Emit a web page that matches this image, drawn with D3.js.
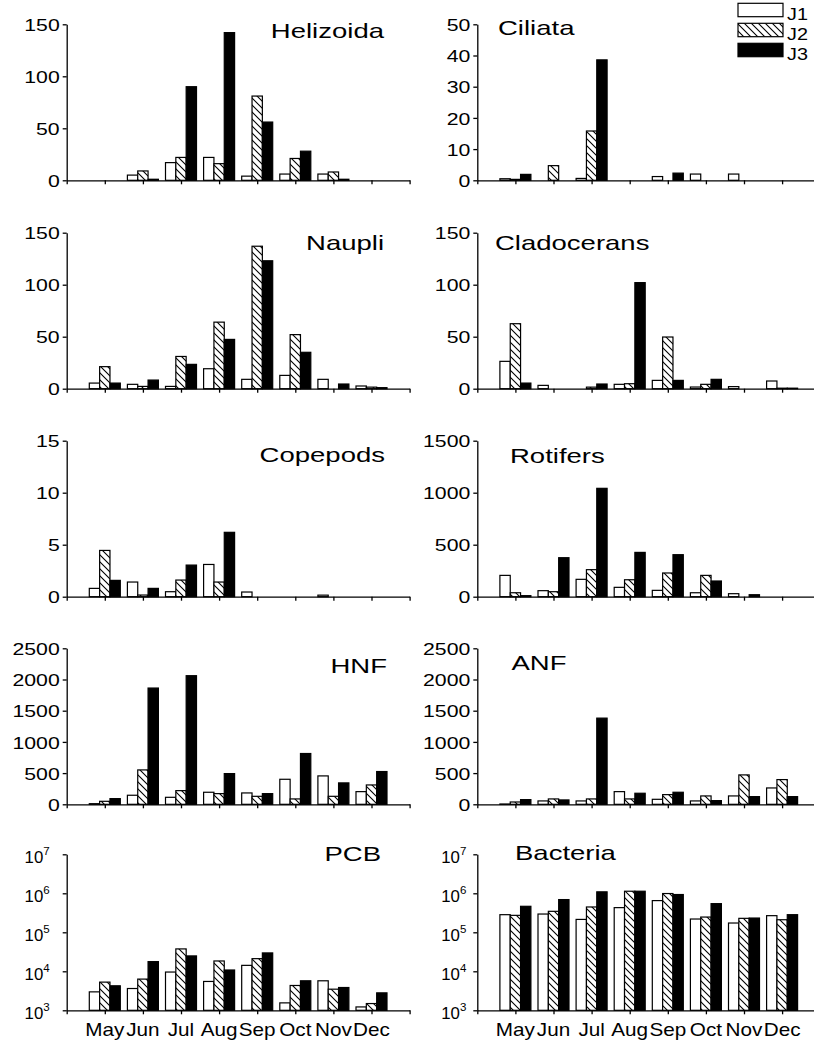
<!DOCTYPE html>
<html><head><meta charset="utf-8">
<script src="https://cdn.jsdelivr.net/npm/d3@7"></script>
<style>
body{margin:0;background:#fff}
svg{display:block}
text{font-family:"Liberation Sans",Arial,sans-serif;fill:#000}
</style>
</head><body>
<svg id="chart" width="814" height="1042"></svg>
<script>
// ---------- data ----------
const months = ["May","Jun","Jul","Aug","Sep","Oct","Nov","Dec"];
const seriesNames = ["J1","J2","J3"];

const helizoidaJ1 = [0, 5, 17, 22, 4, 6, 6, 0];
const helizoidaJ2 = [0, 9, 22, 16, 81, 21, 8, 0];
const helizoidaJ3 = [0, 1, 90, 142, 56, 28, 1, 0];

const ciliataJ1 = [0.5, 0, 0.6, 0, 1.2, 2.0, 2.0, 0];
const ciliataJ2 = [0.3, 4.7, 15.8, 0, 0, 0, 0, 0];
const ciliataJ3 = [1.9, 0, 38.6, 0, 2.3, 0, 0, 0];

const naupliJ1 = [5.4, 4.2, 2.2, 19.2, 9, 12.8, 9, 2.6];
const naupliJ2 = [21.2, 2.2, 31, 64, 137, 52, 0, 1.5];
const naupliJ3 = [5.4, 8.3, 23.4, 47.4, 123, 35, 4.5, 1];

const cladoceransJ1 = [26.3, 3.2, 0, 4.2, 8, 1.6, 2, 7.4];
const cladoceransJ2 = [62.5, 0, 1.5, 4.8, 49.7, 4.2, 0, 0.5];
const cladoceransJ3 = [5.4, 0, 4.5, 102, 8, 9, 0, 0.5];

const copepodsJ1 = [0.8, 1.41, 0.48, 3.1, 0.45, 0, 0.15, 0];
const copepodsJ2 = [4.45, 0.16, 1.6, 1.41, 0, 0, 0, 0];
const copepodsJ3 = [1.57, 0.8, 3.04, 6.19, 0, 0, 0, 0];

const rotifersJ1 = [205, 58, 167, 90, 61, 38, 29, 0];
const rotifersJ2 = [38, 48, 260, 163, 228, 205, 0, 0];
const rotifersJ3 = [10, 375, 1042, 426, 404, 151, 19, 0];

const hnfJ1 = [10, 145, 112, 193, 182, 401, 455, 203];
const hnfJ2 = [48, 551, 219, 171, 128, 86, 128, 310];
const hnfJ3 = [91, 1863, 2061, 492, 171, 814, 343, 525];

const anfJ1 = [5, 54, 54, 203, 80, 54, 134, 262];
const anfJ2 = [37, 86, 86, 86, 155, 134, 471, 396];
const anfJ3 = [75, 70, 1381, 177, 193, 59, 123, 123];

const pcbJ1 = [2970, 3620, 9570, 5490, 14200, 1550, 5710, 1220];
const pcbJ2 = [5280, 6310, 37500, 18400, 21100, 4330, 3480, 1490];
const pcbJ3 = [4250, 17700, 24800, 10800, 29600, 5710, 3840, 2800];

const bacteriaJ1 = [2.83e5, 2.94e5, 2.14e5, 4.29e5, 6.5e5, 2.19e5, 1.73e5, 2.67e5];
const bacteriaJ2 = [2.72e5, 3.45e5, 4.46e5, 1.13e6, 9.86e5, 2.46e5, 2.28e5, 2.1e5];
const bacteriaJ3 = [4.64e5, 6.9e5, 1.09e6, 1.13e6, 9.3e5, 5.43e5, 2.32e5, 2.83e5];

const linTicks150 = [0, 50, 100, 150];
const linTicks50 = [0, 10, 20, 30, 40, 50];
const linTicks15 = [0, 5, 10, 15];
const linTicks1500 = [0, 500, 1000, 1500];
const linTicks2500 = [0, 500, 1000, 1500, 2000, 2500];
const logTicks = [1e3, 1e4, 1e5, 1e6, 1e7];

const panels = [
  {title:"Helizoida",   row:0, col:0, max:150,  ticks:linTicks150,  data:[helizoidaJ1, helizoidaJ2, helizoidaJ3]},
  {title:"Ciliata",     row:0, col:1, max:50,   ticks:linTicks50,   data:[ciliataJ1, ciliataJ2, ciliataJ3]},
  {title:"Naupli",      row:1, col:0, max:150,  ticks:linTicks150,  data:[naupliJ1, naupliJ2, naupliJ3]},
  {title:"Cladocerans", row:1, col:1, max:150,  ticks:linTicks150,  data:[cladoceransJ1, cladoceransJ2, cladoceransJ3]},
  {title:"Copepods",    row:2, col:0, max:15,   ticks:linTicks15,   data:[copepodsJ1, copepodsJ2, copepodsJ3]},
  {title:"Rotifers",    row:2, col:1, max:1500, ticks:linTicks1500, data:[rotifersJ1, rotifersJ2, rotifersJ3]},
  {title:"HNF",         row:3, col:0, max:2500, ticks:linTicks2500, data:[hnfJ1, hnfJ2, hnfJ3]},
  {title:"ANF",         row:3, col:1, max:2500, ticks:linTicks2500, data:[anfJ1, anfJ2, anfJ3]},
  {title:"PCB",         row:4, col:0, log:true, ticks:logTicks,     data:[pcbJ1, pcbJ2, pcbJ3]},
  {title:"Bacteria",    row:4, col:1, log:true, ticks:logTicks,     data:[bacteriaJ1, bacteriaJ2, bacteriaJ3]}
];

// ---------- layout ----------
const colX = [66.7, 477.3];
const rowTop = [24.3, 232.7, 440.7, 648.3, 854.3];
const plotH = 156;
const step = 38.1;
const titlePos = {
  "Helizoida":[384,37.5], "Naupli":[384,250], "Copepods":[385,461.5], "HNF":[387,672.5], "PCB":[381,860.5],
  "Ciliata":[498,35], "Cladocerans":[495,250], "Rotifers":[510,463], "ANF":[511.5,669.5], "Bacteria":[515,859.5]
};

const svg = d3.select("#chart");
svg.append("rect").attr("width",814).attr("height",1042).attr("fill","#fff");

const defs = svg.append("defs");
const pat = defs.append("pattern").attr("id","hatch").attr("patternUnits","userSpaceOnUse")
  .attr("width",7).attr("height",7);
pat.append("rect").attr("width",7).attr("height",7).attr("fill","#fff");
pat.append("path").attr("d","M-1,-1L8,8M-1,6L1,8M6,-1L8,1").attr("stroke","#000").attr("stroke-width",1.1);

const fills = {J1:"#fff", J2:"url(#hatch)", J3:"#000"};

function stretched(g, x, y, sx, str, anchor, size){
  return g.append("text")
    .attr("transform", `translate(${x},${y}) scale(${sx},1)`)
    .attr("text-anchor", anchor)
    .attr("font-size", size)
    .text(str);
}

panels.forEach(p => {
  const x0 = colX[p.col], top = rowTop[p.row], bottom = top + plotH;
  const g = svg.append("g");
  const x = d3.scaleLinear().domain([0, 9]).range([x0, x0 + 9*step]);
  const inner = d3.scaleBand().domain(seriesNames).range([-15.5, 15.5]).padding(0);
  const y = p.log
    ? d3.scaleLog().domain([1e3, 1e7]).range([bottom, top])
    : d3.scaleLinear().domain([0, p.max]).range([bottom, top]);
  const base = p.log ? y(1e3) : y(0);

  seriesNames.forEach((s, si) => {
    const vals = p.data[si];
    g.selectAll(null)
      .data(vals.map((v,i)=>({v,i})).filter(d => d.v > 0))
      .enter().append("rect")
      .attr("x", d => x(d.i + 1) + inner(s))
      .attr("width", inner.bandwidth())
      .attr("y", d => y(d.v))
      .attr("height", d => Math.max(0, base - y(d.v)))
      .attr("fill", fills[s])
      .attr("stroke", "#000")
      .attr("stroke-width", 1.2);
  });

  const yAxis = d3.axisLeft(y).tickValues(p.ticks).tickSize(4).tickSizeOuter(0)
    .tickFormat(d => String(d));
  const ya = g.append("g").attr("transform", `translate(${x0},0)`).call(yAxis);
  ya.select(".domain").attr("stroke-width", 1.3);
  ya.selectAll(".tick line").attr("stroke-width", 1.3);
  if (!p.log) {
    ya.selectAll(".tick text")
      .attr("x", null).attr("dy", "0.36em")
      .attr("font-size", 17).attr("font-family", null)
      .attr("transform", "translate(-7,0) scale(1.25,1)");
  } else {
    ya.selectAll(".tick text").each(function(d){
      const t = d3.select(this);
      t.text(null).attr("x", null).attr("dy", null)
       .attr("font-size", 16).attr("font-family", null)
       .attr("transform", `translate(${p.col===0 ? -17 : -11},8) scale(1.05,1)`);
      t.append("tspan").text("10");
      t.append("tspan").attr("font-size", 11).attr("dy", -8).text(Math.round(Math.log10(d)));
    });
  }

  const xAxis = d3.axisBottom(x).tickValues(d3.range(0, 10)).tickFormat("").tickSize(4).tickSizeOuter(0);
  const xa = g.append("g").attr("transform", `translate(0,${base})`).call(xAxis);
  xa.select(".domain").attr("stroke-width", 1.3);
  xa.selectAll(".tick line").attr("stroke-width", 1.3);

  if (p.row === 4) {
    months.forEach((m, i) => stretched(g, x(i + 1), 1036, 1.15, m, "middle", 18));
  }

  const tp = titlePos[p.title];
  stretched(g, tp[0], tp[1], 1.31, p.title, p.col === 0 ? "end" : "start", 21);
});

// legend
const legY = [3.3, 23.3, 43.3];
seriesNames.forEach((s, i) => {
  svg.append("rect").attr("x", 738).attr("y", legY[i]).attr("width", 45).attr("height", 13.4)
    .attr("fill", fills[s]).attr("stroke", "#000").attr("stroke-width", 1.2);
  stretched(svg, 787, legY[i] + 16.7, 1.2, s, "start", 16.5);
});
</script>
</body></html>
